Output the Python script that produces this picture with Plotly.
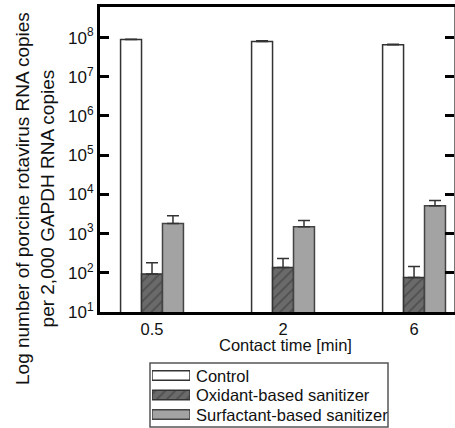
import plotly.graph_objects as go

# ---- data ----
times = ["0.5", "2", "6"]
control = [8.9e7, 8.0e7, 6.6e7]
control_err = [2.0e6, 3.0e6, 2.0e6]
oxidant = [93, 136, 76]
oxidant_err = [87, 96, 69]
surfactant = [1800, 1500, 5150]
surfactant_err = [1070, 650, 1800]
series_names = ["Control", "Oxidant-based sanitizer", "Surfactant-based sanitizer"]
exponents = [1, 2, 3, 4, 5, 6, 7, 8]

W, H = 455, 428
FONT = "Arial, Liberation Sans, sans-serif"
xpos = list(range(len(times)))

L, T, R = 100, 7, 1
plot_bottom_px = 312
dom_y0 = (H - plot_bottom_px) / (H - T)


def py(p):
    return (H - p) / (H - T)


def px(p):
    return (p - L) / (W - L - R)


ctrl_style = dict(color="white", line=dict(color="#333333", width=1.5))
oxi_style = dict(color="#666666", line=dict(color="#333333", width=1.5),
                 pattern=dict(shape="/", bgcolor="#6a6a6a", fgcolor="#333333", size=7, solidity=0.25))
surf_style = dict(color="#a3a3a3", line=dict(color="#444444", width=1.5))
styles = [ctrl_style, oxi_style, surf_style]

fig = go.Figure()
for name, vals, errs, st in zip(series_names, [control, oxidant, surfactant],
                                [control_err, oxidant_err, surfactant_err], styles):
    fig.add_trace(go.Bar(
        x=xpos, y=vals, name=name, marker=st, showlegend=False,
        error_y=dict(type="data", array=errs, arrayminus=[0] * len(errs), symmetric=False,
                     color="#333333", thickness=1.5, width=6),
        xaxis="x", yaxis="y"))

# invisible trace to activate the right-hand tick axis
fig.add_trace(go.Scatter(x=[xpos[0]], y=[control[0]], mode="markers", opacity=0,
                         showlegend=False, hoverinfo="skip", xaxis="x", yaxis="y3"))

# legend swatches on auxiliary axes
for name, st in zip(series_names, styles):
    fig.add_trace(go.Bar(x=[1], y=[name], orientation="h", marker=st, showlegend=False,
                         hoverinfo="skip", xaxis="x2", yaxis="y2"))
    fig.add_annotation(x=px(194), xref="paper", y=name, yref="y2", text=name, showarrow=False,
                       xanchor="left", yanchor="middle", font=dict(size=16.5, color="#111", family=FONT))

fig.add_shape(type="rect", xref="paper", yref="paper", x0=px(150), x1=px(388), y0=py(427), y1=py(363),
              line=dict(color="#555555", width=1.5), fillcolor="white", layer="below")

# axis titles
fig.add_annotation(x=px(35), y=py(199), xref="paper", yref="paper", showarrow=False, textangle=-90,
                   text="Log number of porcine rotavirus RNA copies<br>per 2,000 GAPDH RNA copies",
                   font=dict(size=19, family=FONT, color="#111"), xanchor="center", yanchor="middle")
fig.add_annotation(x=px(285), y=py(345), xref="paper", yref="paper", showarrow=False,
                   text="Contact time [min]", font=dict(size=16.5, family=FONT, color="#111"),
                   xanchor="center", yanchor="middle")

yticks = [10 ** e for e in exponents]
fig.update_layout(
    width=W, height=H, autosize=False,
    margin=dict(l=L, r=R, t=T, b=0, pad=0),
    paper_bgcolor="white", plot_bgcolor="white",
    font=dict(family=FONT, color="#111111", size=15),
    barmode="group", bargap=0.52, bargroupgap=0,
    xaxis=dict(domain=[0, 1], range=[-0.397, 2.305], tickvals=xpos, ticktext=times,
               showline=True, linewidth=3, linecolor="black", mirror=True, ticks="",
               showgrid=False, zeroline=False, tickfont=dict(size=16.5),
               anchor="y", automargin=False),
    yaxis=dict(domain=[dom_y0, 1], type="log", range=[1, 8.78],
               tickvals=yticks,
               ticktext=["10<sup>%d</sup>" % e for e in exponents],
               ticks="inside", ticklen=9, tickwidth=3, tickcolor="black",
               showline=True, linewidth=3, linecolor="black", mirror=False,
               showgrid=False, zeroline=False, tickfont=dict(size=17),
               anchor="x", automargin=False),
    yaxis3=dict(domain=[dom_y0, 1], type="log", range=[1, 8.78], overlaying="y", side="right",
                tickvals=yticks, showticklabels=False,
                ticks="inside", ticklen=9, tickwidth=3, tickcolor="black",
                showline=True, linewidth=1, linecolor="#777777",
                showgrid=False, zeroline=False, anchor="x", automargin=False),
    xaxis2=dict(domain=[px(152), px(190)], range=[0, 1], visible=False, anchor="y2"),
    yaxis2=dict(domain=[py(425.5), py(364.5)], visible=False, anchor="x2",
                categoryorder="array", categoryarray=series_names[::-1]),
    showlegend=False,
)

fig.write_html("out.html", config={"displayModeBar": False, "responsive": False},
               post_script="document.body.style.margin='0';document.body.style.padding='0';document.body.style.overflow='hidden';")
